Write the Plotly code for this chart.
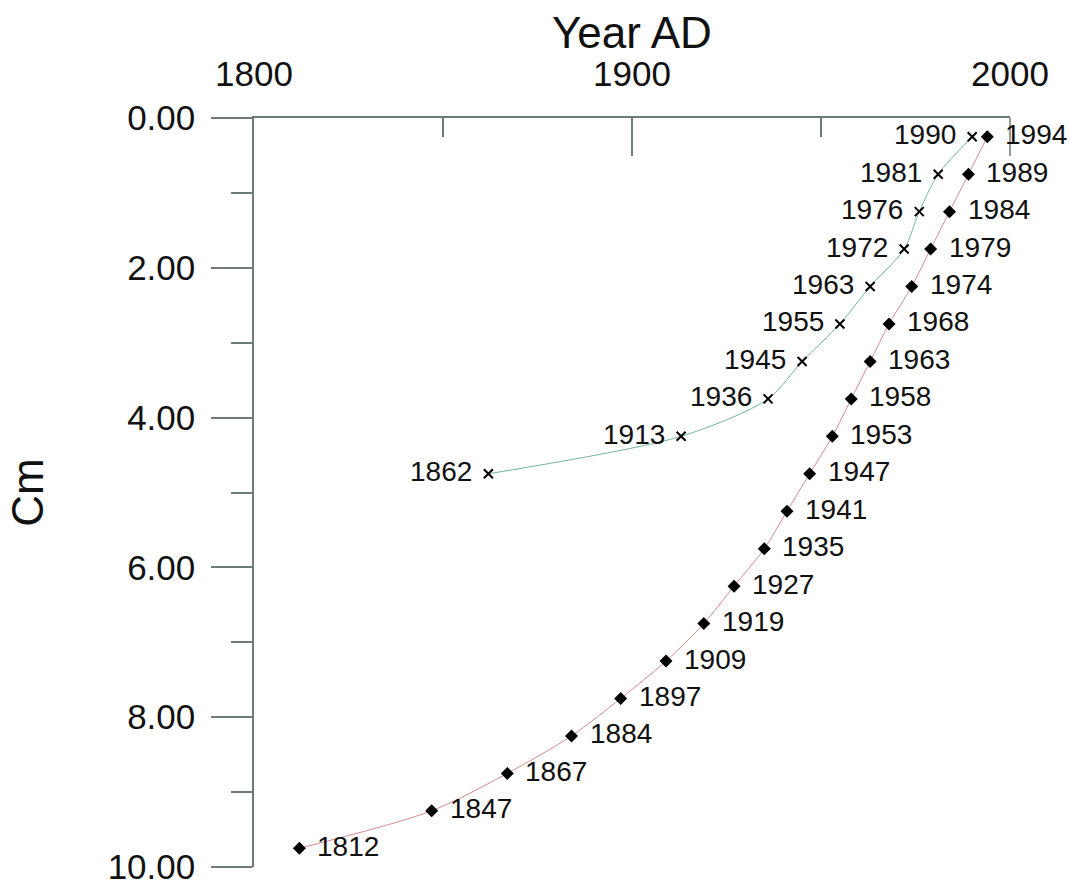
import plotly.graph_objects as go

# Core A: diamonds (red line)
depth_a = [0.25, 0.75, 1.25, 1.75, 2.25, 2.75, 3.25, 3.75, 4.25, 4.75,
           5.25, 5.75, 6.25, 6.75, 7.25, 7.75, 8.25, 8.75, 9.25, 9.75]
year_a = [1994, 1989, 1984, 1979, 1974, 1968, 1963, 1958, 1953, 1947,
          1941, 1935, 1927, 1919, 1909, 1897, 1884, 1867, 1847, 1812]

# Core B: crosses (green line)
depth_b = [0.25, 0.75, 1.25, 1.75, 2.25, 2.75, 3.25, 3.75, 4.25, 4.75]
year_b = [1990, 1981, 1976, 1972, 1963, 1955, 1945, 1936, 1913, 1862]

x_ticks = [1800, 1900, 2000]
y_ticks = [0, 2, 4, 6, 8, 10]

AX = "#6e7d74"
FONT = "Liberation Sans, Arial, sans-serif"

fig = go.Figure()
fig.add_trace(go.Scatter(
    x=year_a, y=depth_a, mode="lines+markers",
    line=dict(color="#d48a92", width=1, shape="spline", smoothing=0.8),
    marker=dict(symbol="diamond", size=10, color="black"),
    cliponaxis=False, showlegend=False))
fig.add_trace(go.Scatter(
    x=year_b, y=depth_b, mode="lines+markers",
    line=dict(color="#74b49c", width=1, shape="spline", smoothing=0.8),
    marker=dict(symbol="x-thin", size=9, color="black",
                line=dict(width=2, color="black")),
    cliponaxis=False, showlegend=False))

for yr, d in zip(year_a, depth_a):
    fig.add_annotation(x=yr, y=d, text=str(yr), showarrow=False,
                       xanchor="left", yanchor="middle", xshift=16, yshift=2,
                       font=dict(family=FONT, size=28, color="#111"))
for yr, d in zip(year_b, depth_b):
    fig.add_annotation(x=yr, y=d, text=str(yr), showarrow=False,
                       xanchor="right", yanchor="middle", xshift=-14, yshift=2,
                       font=dict(family=FONT, size=28, color="#111"))

# axis titles
fig.add_annotation(text="Year AD", xref="paper", yref="paper", x=0.5, y=1.1135,
                   xanchor="center", yanchor="middle", showarrow=False,
                   font=dict(family=FONT, size=44, color="#111"))
fig.add_annotation(text="Cm", xref="paper", yref="paper", x=-0.300, y=0.5,
                   xanchor="center", yanchor="middle", showarrow=False, textangle=-90,
                   font=dict(family=FONT, size=44, color="#111"))

# major tick at the right end of the top axis (x = 2000)
fig.add_shape(type="line", xref="paper", yref="paper", x0=1, x1=1,
              y0=1, y1=1 - 38 / 749, line=dict(color=AX, width=1.5))

fig.update_layout(
    width=1070, height=885,
    margin=dict(l=254, r=60, t=118, b=18, autoexpand=False),
    paper_bgcolor="white", plot_bgcolor="white",
    font=dict(family=FONT, color="#111"),
    xaxis=dict(
        side="top", range=[1800, 2000], tickvals=x_ticks, automargin=False,
        ticks="inside", ticklen=38, tickcolor=AX, tickwidth=1.5,
        minor=dict(dtick=50, ticks="inside", ticklen=19, tickcolor=AX, tickwidth=1.5),
        showline=True, linecolor=AX, linewidth=1.5, showgrid=False, zeroline=False,
        tickfont=dict(size=35, family=FONT), ticklabelstandoff=16,
        ticklabeloverflow="allow",
    ),
    yaxis=dict(
        range=[10, 0], tickvals=y_ticks, tickformat=".2f", automargin=False,
        ticks="outside", ticklen=41, tickcolor=AX, tickwidth=1.5,
        minor=dict(dtick=1, ticks="outside", ticklen=21, tickcolor=AX, tickwidth=1.5),
        showline=True, linecolor=AX, linewidth=1.5, showgrid=False, zeroline=False,
        tickfont=dict(size=35, family=FONT), ticklabelstandoff=9,
        ticklabeloverflow="allow",
    ),
)

fig.write_html("out.html")
